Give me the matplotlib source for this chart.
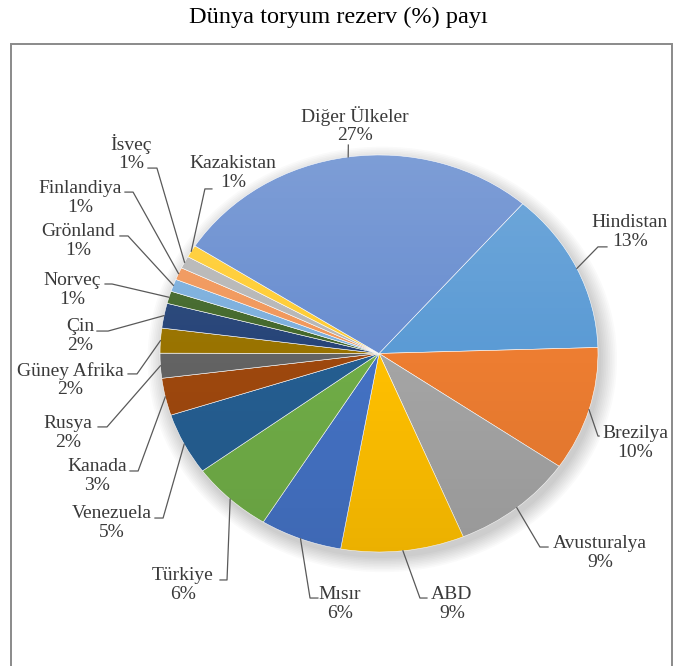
import numpy as np
import matplotlib
matplotlib.use('Agg')
import matplotlib.pyplot as plt
from matplotlib.patches import Ellipse, Circle, Rectangle

countries = ['Hindistan', 'Brezilya', 'Avusturalya', 'ABD', 'Mısır', 'Türkiye',
             'Venezuela', 'Kanada', 'Rusya', 'Güney Afrika', 'Çin', 'Norveç',
             'Grönland', 'Finlandiya', 'İsveç', 'Kazakistan', 'Diğer Ülkeler']
shares = [13, 10, 9, 9, 6, 6, 5, 3, 2, 2, 2, 1, 1, 1, 1, 1, 27]

colors = ['#5B9BD5', '#ED7D31', '#A5A5A5', '#FFC000', '#4472C4', '#70AD47',
          '#255E91', '#9E480E', '#636363', '#997300', '#264478', '#43682B',
          '#7CAFDD', '#F1975A', '#B7B7B7', '#FFCD33', '#698ED0']

# label centres, leader elbows and stub ends (pie radius = 1)
label_xy = [(1.146, 0.612), (1.169, -0.451), (1.009, -1.005), (0.333, -1.262),
            (-0.178, -1.262), (-0.895, -1.166), (-1.219, -0.854), (-1.288, -0.617),
            (-1.420, -0.401), (-1.411, -0.134), (-1.365, 0.088), (-1.402, 0.320),
            (-1.374, 0.567), (-1.365, 0.783), (-1.132, 1.010), (-0.667, 0.909),
            (-0.110, 1.151)]
elbow_xy = [(1.000, 0.537), (1.000, -0.416), (0.735, -0.975), (0.187, -1.232),
            (-0.315, -1.232), (-0.694, -1.141), (-0.986, -0.829), (-1.100, -0.592),
            (-1.242, -0.370), (-1.105, -0.103), (-1.237, 0.113), (-1.219, 0.350),
            (-1.146, 0.592), (-1.123, 0.813), (-1.014, 0.934), (-0.795, 0.829),
            (-0.140, 1.050)]
stub_x = [1.041, 1.005, 0.772, 0.219, -0.279, -0.726, -1.023, -1.137,
          -1.283, -1.146, -1.288, -1.251, -1.183, -1.160, -1.055, -0.763, -0.140]

fig = plt.figure(figsize=(6.76, 6.66), dpi=100)
fig.text(0.5, 0.9745, 'Dünya toryum rezerv (%) payı', ha='center', va='center',
         fontsize=17.5, family='Liberation Serif', color='black')
fig.patches.append(Rectangle((0.0163, -0.05), 0.978, 0.984, transform=fig.transFigure,
                             fill=False, edgecolor='#8a8a8a', linewidth=1.4))

ax = fig.add_axes([0.2367, 0.1712, 0.6479, 0.5961])

# soft drop shadow
for k in range(10):
    ax.add_patch(Ellipse((0.015, -0.03), 2 + 0.016 * k, 2 + 0.016 * k,
                         color='black', alpha=0.018, lw=0, zorder=1, clip_on=False))

wedges, _ = ax.pie(shares, colors=colors, startangle=49, counterclock=False,
                   wedgeprops=dict(edgecolor='white', linewidth=0.4, zorder=2))

# light top-to-bottom shading over the pie
g = np.linspace(0, 1, 256)[:, None]
shade = np.zeros((256, 2, 4))
shade[..., :3] = np.where(g < 0.5, 1.0, 0.0)[..., None]
shade[..., 3] = np.where(g < 0.5, 0.14 * (1 - 2 * g), 0.08 * (2 * g - 1))
img = ax.imshow(shade, extent=(-1, 1, -1, 1), aspect='auto', zorder=3)
img.set_clip_path(Circle((0, 0), 1, transform=ax.transData))

ax.set_aspect('auto')
ax.set_xlim(-1, 1)
ax.set_ylim(-1, 1)
ax.axis('off')

for w, name, val, (tx, ty), (ex, ey), sx in zip(wedges, countries, shares,
                                                label_xy, elbow_xy, stub_x):
    mid = np.deg2rad((w.theta1 + w.theta2) / 2)
    px, py = np.cos(mid), np.sin(mid)
    ax.plot([px, ex, sx], [py, ey, ey], color='#595959', lw=0.9,
            clip_on=False, zorder=4)
    ax.text(tx, ty, f'{name}\n{val}%', ha='center', va='center', fontsize=14,
            family='Liberation Serif', color='#3a3a3a', linespacing=1.12)

plt.savefig('out.png', dpi=100)
